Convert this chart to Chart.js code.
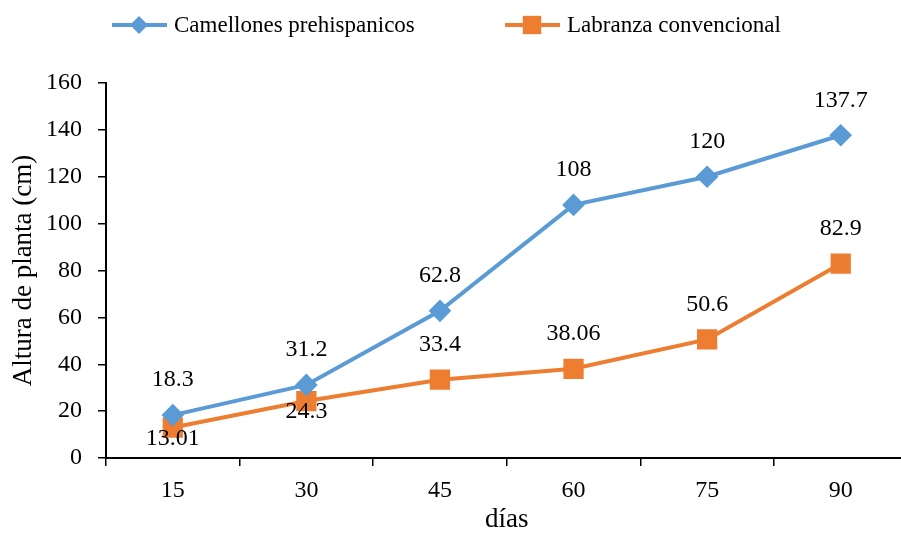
<!DOCTYPE html>
<html>
<head>
<meta charset="utf-8">
<script src="https://cdn.jsdelivr.net/npm/chart.js@4.4.1/dist/chart.umd.min.js"></script>
<style>
  html, body { margin: 0; padding: 0; background: #fff; overflow: hidden; }
  #wrap { width: 901px; height: 539px; overflow: hidden; }
</style>
</head>
<body>
<div id="wrap"><canvas id="chart" width="923" height="539"></canvas></div>
<script>
// chart data
const dias = ['15', '30', '45', '60', '75', '90'];
const camellones = [18.3, 31.2, 62.8, 108, 120, 137.7];
const labranza = [13.01, 24.3, 33.4, 38.06, 50.6, 82.9];
const camellonesLabels = ['18.3', '31.2', '62.8', '108', '120', '137.7'];
const labranzaLabels = ['13.01', '24.3', '33.4', '38.06', '50.6', '82.9'];

const BLUE = '#5B9BD5';
const ORANGE = '#ED7D31';
const FONT = "'Liberation Serif', 'Times New Roman', serif";

// draws value labels next to points
const valueLabels = {
  id: 'valueLabels',
  afterDatasetsDraw(chart) {
    const ctx = chart.ctx;
    ctx.save();
    ctx.font = '24px ' + FONT;
    ctx.fillStyle = '#000';
    ctx.textAlign = 'center';
    ctx.textBaseline = 'middle';
    chart.data.datasets.forEach((ds, i) => {
      const meta = chart.getDatasetMeta(i);
      meta.data.forEach((pt, j) => {
        const below = ds.labelBelow && ds.labelBelow[j];
        ctx.fillText(ds.valueText[j], pt.x, below ? pt.y + 11 : pt.y - 35);
      });
    });
    ctx.restore();
  }
};

// legend with line + marker like the original
const lineLegend = {
  id: 'lineLegend',
  afterDraw(chart) {
    const ctx = chart.ctx;
    const items = [
      { x: 112, r: 9, ds: chart.data.datasets[0] },
      { x: 505, r: 13, ds: chart.data.datasets[1] }
    ];
    const y = 25;
    ctx.save();
    ctx.font = '23px ' + FONT;
    ctx.textBaseline = 'middle';
    items.forEach(it => {
      ctx.strokeStyle = it.ds.borderColor;
      ctx.lineWidth = 4;
      ctx.beginPath();
      ctx.moveTo(it.x, y);
      ctx.lineTo(it.x + 55, y);
      ctx.stroke();
      ctx.fillStyle = it.ds.borderColor;
      Chart.helpers.drawPoint(ctx, {
        pointStyle: it.ds.pointStyle,
        radius: it.r,
        rotation: 0
      }, it.x + 27, y);
      ctx.fillStyle = '#000';
      ctx.fillText(it.ds.label, it.x + 62, y + 1);
    });
    ctx.restore();
  }
};

new Chart(document.getElementById('chart'), {
  type: 'line',
  data: {
    labels: dias,
    datasets: [
      {
        label: 'Camellones prehispanicos',
        data: camellones,
        valueText: camellonesLabels,
        borderColor: BLUE,
        backgroundColor: BLUE,
        borderWidth: 4,
        pointStyle: 'rectRot',
        pointRadius: 8.5,
        pointHoverRadius: 8.5,
        tension: 0
      },
      {
        label: 'Labranza convencional',
        data: labranza,
        valueText: labranzaLabels,
        labelBelow: [true, true, false, false, false, false],
        borderColor: ORANGE,
        backgroundColor: ORANGE,
        borderWidth: 4,
        pointStyle: 'rect',
        pointRadius: 11.5,
        pointHoverRadius: 11.5,
        tension: 0
      }
    ]
  },
  options: {
    responsive: false,
    animation: false,
    devicePixelRatio: 1,
    layout: { padding: { top: 83, right: 6, left: 0, bottom: 0 } },
    plugins: {
      legend: { display: false },
      tooltip: { enabled: false }
    },
    scales: {
      x: {
        offset: true,
        grid: { display: true, offset: true, drawOnChartArea: false, color: '#000', tickLength: 8, lineWidth: 1.5 },
        border: { color: '#000', width: 2 },
        ticks: { color: '#000', font: { family: FONT, size: 24 }, padding: 10, maxRotation: 0 },
        title: { display: true, text: 'días', color: '#000', font: { family: FONT, size: 27 }, padding: { top: 0, bottom: 3 } },
        afterFit(scale) { scale.height = 81; }
      },
      y: {
        min: 0,
        max: 160,
        ticks: { stepSize: 20, color: '#000', font: { family: FONT, size: 24 }, padding: 16 },
        grid: { display: true, drawOnChartArea: false, color: '#000', tickLength: 8, lineWidth: 1.5 },
        border: { color: '#000', width: 2 },
        title: { display: true, text: 'Altura de planta (cm)', color: '#000', font: { family: FONT, size: 27 }, padding: { top: 8, bottom: 0 } },
        afterFit(scale) { scale.width = 106; }
      }
    }
  },
  plugins: [valueLabels, lineLegend]
});
</script>
</body>
</html>
